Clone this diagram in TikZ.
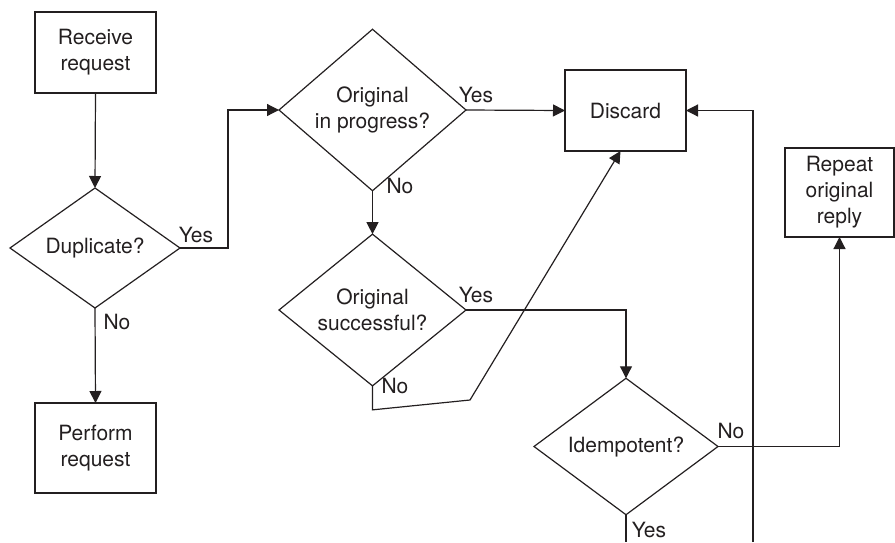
\documentclass[tikz,border=0pt]{standalone}
\usepackage{fontspec}
\setmainfont{TeX Gyre Heros}
\usetikzlibrary{shapes.geometric,arrows.meta}
\definecolor{ink}{HTML}{231F20}
\begin{document}
\begin{tikzpicture}[x=1pt,y=-1pt,
  every node/.style={font=\fontsize{21}{26}\selectfont, text=ink},
  box/.style={draw=ink, line width=1.2pt, rectangle, inner sep=0pt, outer sep=0pt, align=center},
  dia/.style={draw=ink, line width=1.2pt, diamond, inner sep=0pt, outer sep=0pt, align=center},
  lbl/.style={inner sep=0pt},
  conn/.style={draw=ink, line width=1.2pt},
  arr/.style={conn, -{Triangle[length=12pt,width=12pt]}}]
\useasboundingbox (0,0) rectangle (895,542);
\node[box, minimum width=121, minimum height=81] (rr) at (95.5,52.5) {Receive\\request};
\node[dia, minimum width=170, minimum height=120] (dup) at (95,248) {Duplicate?};
\node[box, minimum width=121, minimum height=90] (pr) at (95.5,448) {Perform\\request};
\node[dia, minimum width=187, minimum height=133] (prog) at (372.5,110) {Original\\in progress?};
\node[dia, minimum width=187, minimum height=132] (succ) at (372.5,310) {Original\\successful?};
\node[box, minimum width=121, minimum height=81] (disc) at (625.5,110.5) {Discard};
\node[dia, minimum width=184, minimum height=133] (idem) at (626,446.5) {Idempotent?};
\node[box, minimum width=109, minimum height=89] (rep) at (839.5,192.5) {Repeat\\original\\reply};

\coordinate (c1) at (470,400);
\coordinate (ybot) at (626,542);
\coordinate (rbot) at (753,542);

\draw[arr] (rr.south) -- (dup.north);
\draw[arr] (dup.east) -- ++(48,0) |- (prog.west);
\draw[arr] (dup.south) -- (pr.north);
\draw[arr] (prog.east) -- (disc.west);
\draw[arr] (prog.south) -- (succ.north);
\draw[arr] (succ.east) -| (idem.north);
\draw[arr] (succ.south) -- ++(0,24) -- (c1) -- ([xshift=-5pt]disc.south);
\draw[arr] (idem.east) -| (rep.south);
\draw[conn] (idem.south) -- (ybot);
\draw[arr] (rbot) |- (disc.east);

\node[lbl] (l1) at (196,235) {Yes};
\node[lbl] (l2) at (117,322) {No};
\node[lbl] (l3) at (476,95) {Yes};
\node[lbl] (l4) at (400,186) {No};
\node[lbl] (l5) at (476,295) {Yes};
\node[lbl] (l6) at (395,386) {No};
\node[lbl] (l7) at (731,431) {No};
\node[lbl] (l8) at (649,530) {Yes};
\end{tikzpicture}
\end{document}
